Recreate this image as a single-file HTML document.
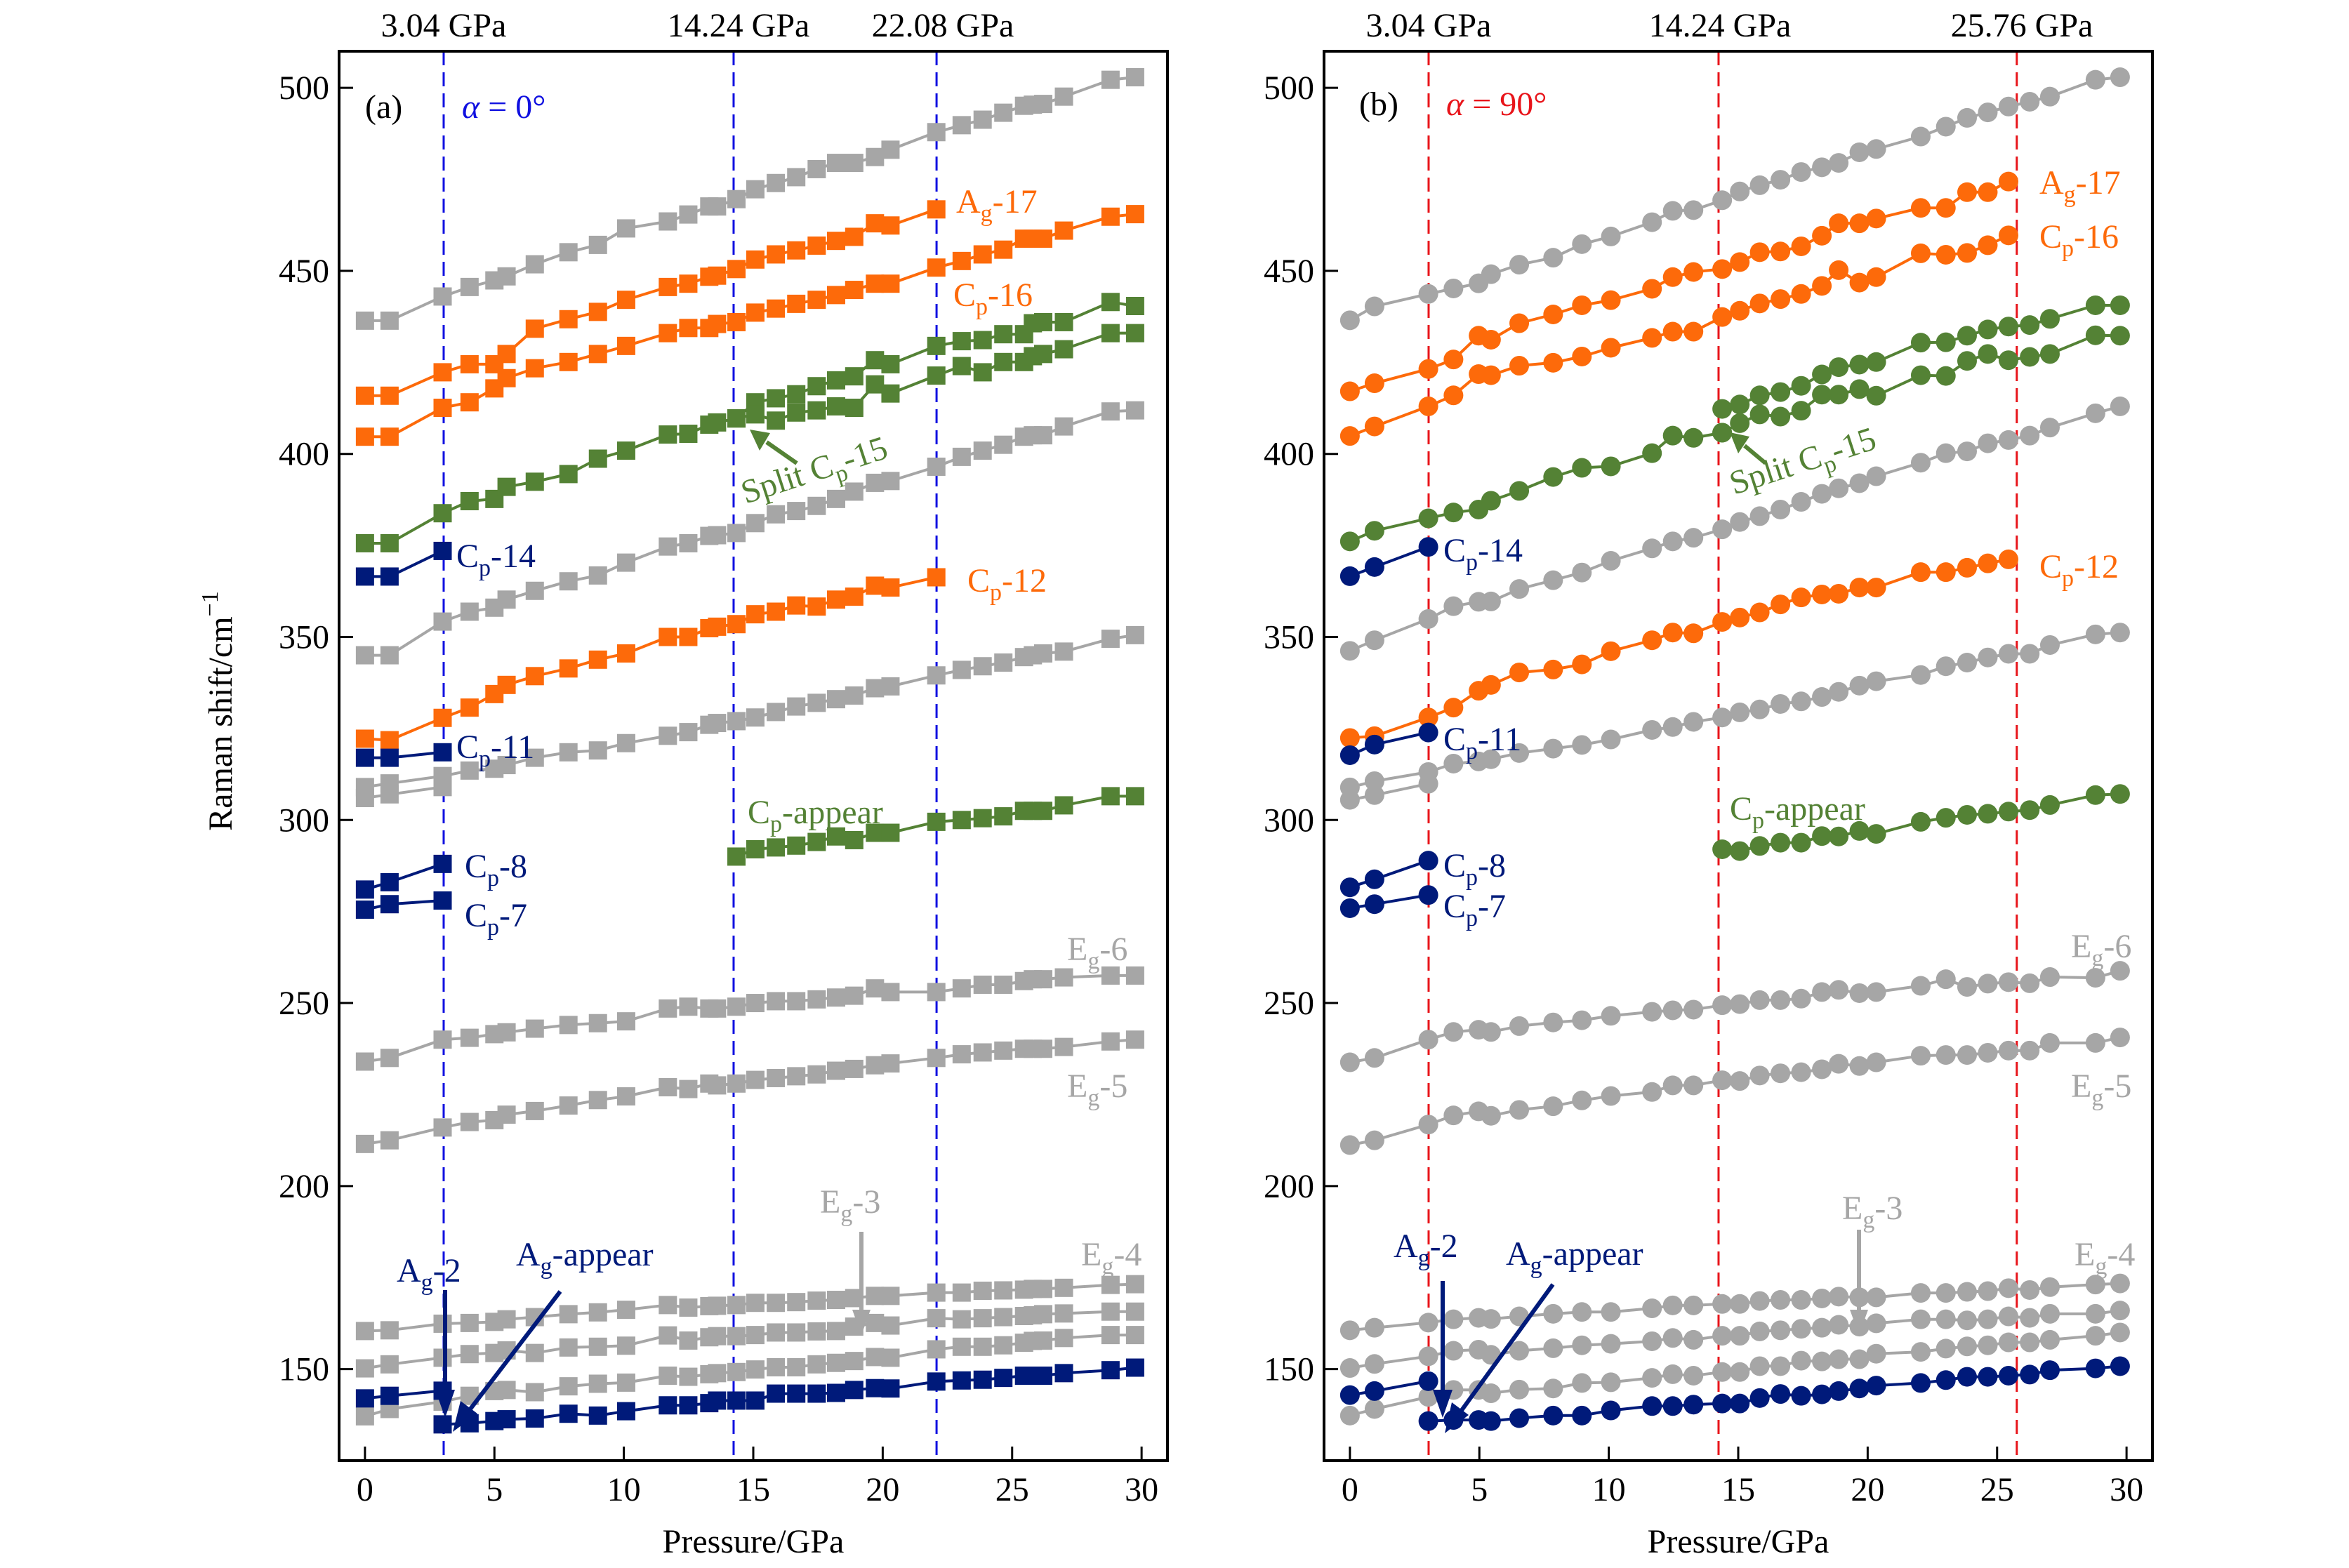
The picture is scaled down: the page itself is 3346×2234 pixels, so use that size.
<!DOCTYPE html>
<html><head><meta charset="utf-8"><title>Raman shift vs pressure</title>
<style>
html,body{margin:0;padding:0;background:#fff;}
svg{display:block;}
text{font-family:"Liberation Serif","DejaVu Serif",serif;}
</style></head>
<body>
<svg id="chart" xmlns="http://www.w3.org/2000/svg" width="3346" height="2234" viewBox="0 0 3346 2234">
<rect x="0" y="0" width="3346" height="2234" fill="#fff"/>
<g id="layer-a"></g>
<g id="layer-b"></g>

<!-- y axis title -->
<text transform="translate(330,1013) rotate(-90)" text-anchor="middle" font-size="48" fill="#000">Raman shift/cm<tspan dy="-20" font-size="34">−1</tspan></text>
<text x="1073" y="2212" text-anchor="middle" font-size="48" fill="#000">Pressure/GPa</text>
<text x="2476" y="2212" text-anchor="middle" font-size="48" fill="#000">Pressure/GPa</text>

<!-- panel a annotations -->
<g font-size="48">
<text x="520" y="168" fill="#000">(a)</text>
<text x="658" y="168" fill="#1010e0"><tspan font-style="italic">α</tspan> = 0°</text>
<text x="1362" y="303" fill="#fd6a0a">A<tspan dy="12" font-size="34">g</tspan><tspan dy="-12">-17</tspan></text>
<text x="1358" y="436" fill="#fd6a0a">C<tspan dy="12" font-size="34">p</tspan><tspan dy="-12">-16</tspan></text>
<text transform="translate(1062,718) rotate(-18)" fill="#548235">Split C<tspan dy="12" font-size="34">p</tspan><tspan dy="-12">-15</tspan></text>
<text x="650" y="808" fill="#001a7a">C<tspan dy="12" font-size="34">p</tspan><tspan dy="-12">-14</tspan></text>
<text x="1378" y="843" fill="#fd6a0a">C<tspan dy="12" font-size="34">p</tspan><tspan dy="-12">-12</tspan></text>
<text x="650" y="1080" fill="#001a7a">C<tspan dy="12" font-size="34">p</tspan><tspan dy="-12">-11</tspan></text>
<text x="1065" y="1173" fill="#548235">C<tspan dy="12" font-size="34">p</tspan><tspan dy="-12">-appear</tspan></text>
<text x="662" y="1250" fill="#001a7a">C<tspan dy="12" font-size="34">p</tspan><tspan dy="-12">-8</tspan></text>
<text x="662" y="1320" fill="#001a7a">C<tspan dy="12" font-size="34">p</tspan><tspan dy="-12">-7</tspan></text>
<text x="1520" y="1368" fill="#a6a6a6">E<tspan dy="12" font-size="34">g</tspan><tspan dy="-12">-6</tspan></text>
<text x="1520" y="1563" fill="#a6a6a6">E<tspan dy="12" font-size="34">g</tspan><tspan dy="-12">-5</tspan></text>
<text x="1168" y="1728" fill="#a6a6a6">E<tspan dy="12" font-size="34">g</tspan><tspan dy="-12">-3</tspan></text>
<text x="1540" y="1803" fill="#a6a6a6">E<tspan dy="12" font-size="34">g</tspan><tspan dy="-12">-4</tspan></text>
<text x="565" y="1826" fill="#001a7a">A<tspan dy="12" font-size="34">g</tspan><tspan dy="-12">-2</tspan></text>
<text x="735" y="1803" fill="#001a7a">A<tspan dy="12" font-size="34">g</tspan><tspan dy="-12">-appear</tspan></text>
<line x1="634" y1="1838" x2="634" y2="1985" stroke="#001a7a" stroke-width="6"/>
<polygon points="620,1980 648,1980 634,2020" fill="#001a7a"/>
<line x1="798" y1="1840" x2="668" y2="2010" stroke="#001a7a" stroke-width="6"/>
<polygon points="656,1996 680,2014 645,2040" fill="#001a7a"/>
<line x1="1227" y1="1755" x2="1227" y2="1870" stroke="#a6a6a6" stroke-width="6"/>
<polygon points="1214,1866 1240,1866 1227,1902" fill="#a6a6a6"/>
<line x1="1135" y1="660" x2="1092" y2="630" stroke="#548235" stroke-width="6"/>
<polygon points="1097,617 1082,642 1068,612" fill="#548235"/>
<text x="632" y="52" text-anchor="middle" fill="#000">3.04 GPa</text>
<text x="1052" y="52" text-anchor="middle" fill="#000">14.24 GPa</text>
<text x="1343" y="52" text-anchor="middle" fill="#000">22.08 GPa</text>
</g>

<!-- panel b annotations -->
<g font-size="48">
<text x="1936" y="164" fill="#000">(b)</text>
<text x="2060" y="164" fill="#e8141a"><tspan font-style="italic">α</tspan> = 90°</text>
<text x="2905" y="276" fill="#fd6a0a">A<tspan dy="12" font-size="34">g</tspan><tspan dy="-12">-17</tspan></text>
<text x="2905" y="353" fill="#fd6a0a">C<tspan dy="12" font-size="34">p</tspan><tspan dy="-12">-16</tspan></text>
<text transform="translate(2470,705) rotate(-18)" fill="#548235">Split C<tspan dy="12" font-size="34">p</tspan><tspan dy="-12">-15</tspan></text>
<text x="2056" y="800" fill="#001a7a">C<tspan dy="12" font-size="34">p</tspan><tspan dy="-12">-14</tspan></text>
<text x="2905" y="823" fill="#fd6a0a">C<tspan dy="12" font-size="34">p</tspan><tspan dy="-12">-12</tspan></text>
<text x="2056" y="1069" fill="#001a7a">C<tspan dy="12" font-size="34">p</tspan><tspan dy="-12">-11</tspan></text>
<text x="2464" y="1168" fill="#548235">C<tspan dy="12" font-size="34">p</tspan><tspan dy="-12">-appear</tspan></text>
<text x="2056" y="1249" fill="#001a7a">C<tspan dy="12" font-size="34">p</tspan><tspan dy="-12">-8</tspan></text>
<text x="2056" y="1307" fill="#001a7a">C<tspan dy="12" font-size="34">p</tspan><tspan dy="-12">-7</tspan></text>
<text x="2950" y="1364" fill="#a6a6a6">E<tspan dy="12" font-size="34">g</tspan><tspan dy="-12">-6</tspan></text>
<text x="2950" y="1563" fill="#a6a6a6">E<tspan dy="12" font-size="34">g</tspan><tspan dy="-12">-5</tspan></text>
<text x="2624" y="1737" fill="#a6a6a6">E<tspan dy="12" font-size="34">g</tspan><tspan dy="-12">-3</tspan></text>
<text x="2955" y="1803" fill="#a6a6a6">E<tspan dy="12" font-size="34">g</tspan><tspan dy="-12">-4</tspan></text>
<text x="1985" y="1791" fill="#001a7a">A<tspan dy="12" font-size="34">g</tspan><tspan dy="-12">-2</tspan></text>
<text x="2145" y="1802" fill="#001a7a">A<tspan dy="12" font-size="34">g</tspan><tspan dy="-12">-appear</tspan></text>
<line x1="2055" y1="1825" x2="2055" y2="1985" stroke="#001a7a" stroke-width="6"/>
<polygon points="2041,1980 2069,1980 2055,2020" fill="#001a7a"/>
<line x1="2212" y1="1830" x2="2080" y2="2012" stroke="#001a7a" stroke-width="6"/>
<polygon points="2068,1998 2092,2016 2058,2042" fill="#001a7a"/>
<line x1="2648" y1="1752" x2="2648" y2="1870" stroke="#a6a6a6" stroke-width="6"/>
<polygon points="2635,1866 2661,1866 2648,1902" fill="#a6a6a6"/>
<line x1="2515" y1="660" x2="2485" y2="635" stroke="#548235" stroke-width="6"/>
<polygon points="2492,622 2476,646 2464,616" fill="#548235"/>
<text x="2035" y="52" text-anchor="middle" fill="#000">3.04 GPa</text>
<text x="2450" y="52" text-anchor="middle" fill="#000">14.24 GPa</text>
<text x="2880" y="52" text-anchor="middle" fill="#000">25.76 GPa</text>
</g>
</svg>

<script>
// ---------- data ----------
const P_A = [0,0.95,3.0,4.04,5.0,5.47,6.56,7.86,9.0,10.09,11.7,12.49,13.3,13.6,14.35,15.08,15.87,16.66,17.45,18.2,18.9,19.7,20.3,22.07,23.05,23.86,24.66,25.46,25.8,26.2,27.0,28.8,29.75];
const P_B = [0,0.95,3.03,4.0,4.97,5.45,6.54,7.85,8.96,10.08,11.67,12.47,13.27,14.38,15.06,15.83,16.63,17.43,18.23,18.88,19.68,20.33,22.05,23.02,23.84,24.64,25.44,26.26,27.04,28.8,29.75];
const LOW3_A = [0,0.95,3.0];
const LOW3_B = [0,0.95,3.03];
const TRANS_A = [3.04,14.24,22.08];
const TRANS_B = [3.04,14.24,25.76];
const X_TICKS = [0,5,10,15,20,25,30];
const Y_TICKS = [150,200,250,300,350,400,450,500];

const a_top = [436.4,436.4,443,445.6,447.4,448.5,451.8,455.1,457.1,461.6,463.5,465.4,467.6,467.6,469.6,472.3,474,475.6,477.8,479.5,479.5,481.1,483.1,487.9,489.8,491.3,493.2,495.1,495.4,495.6,497.6,502.2,502.9];
const a_ag17 = [415.9,415.9,422.3,424.5,424.5,427.3,434.2,436.8,438.8,442.1,445.6,446.5,448.4,448.7,450.5,453.1,454.5,455.6,456.9,458.2,459.3,463,462.4,466.8];
const a_cp16 = [404.7,404.7,412.6,414.1,417.9,420.7,423.4,425.1,427.3,429.5,433,434.4,434.4,435.5,436,438.6,439.7,441,442.1,443.4,444.8,446.5,446.5,450.9,452.7,454.5,455.8,458.8,458.8,458.8,461,464.8,465.5];
const a_cp15 = [375.6,375.6,383.8,387.1,387.7,391,392.4,394.5,398.7,400.9,405.3,405.5,408,408.6,409.7];
const a_cp15up = [409.7,414.1,415.2,416.3,418.5,420.1,421.2,425.6,424.5,429.5,430.8,431.1,432.7,432.7,435.7,436,436,441.5,440.4];
const a_cp15lo = [409.7,410.8,409.1,411.3,411.9,413,412.6,419,416.5,421.4,424,422.3,425.1,425.1,426.7,427.3,428.6,433,433];
const a_g4 = [345,345,354.2,356.9,358,360.2,362.6,365.2,366.8,370.3,374.7,375.6,377.6,377.8,378.4,381.1,383.5,384.4,385.8,387.7,389.7,392.1,392.6,396.5,399.2,400.9,402.5,404.7,405.1,405.1,407.5,411.6,411.9];
const a_cp14 = [366.5,366.5,373.5];
const a_cp12 = [322.2,321.8,327.9,330.7,334.4,336.9,339.3,341.4,343.8,345.5,350,350,352.4,352.8,353.5,356.2,356.9,358.6,358.3,360.2,361,364,363.5,366.3];
const a_g5 = [309,310,312,313.5,314,315,317,318.5,319,321,323,324,326,326.5,327,328,329.5,331,332,333,334,336,336.5,339.5,341,342,343,344.5,345,345.5,346,349.5,350.5];
const a_g5lo = [306,307,309];
const a_cp11 = [317,317,318.5];
const a_cp8 = [281,283,288];
const a_cp7 = [275.5,277,278];
const a_cpapp = [290,292,292.5,293,294,295.5,294.5,296.5,296.5,299.5,300,300.5,301,302.5,302.5,302.5,304,306.5,306.5];
const a_eg6 = [234,235,240,240.5,241.5,242,243,244,244.5,245,248.5,249,248.5,248.5,249,250,250.5,250.5,251,251.5,252,254,253,253,254,255,255,256,256.5,256.5,257,257.5,257.5];
const a_eg5 = [211.5,212.5,216,217.5,218,219.5,220.5,222,223.5,224.5,227,226.5,228,227.5,228,229,229.5,230,230.5,231.5,232,233,233.5,235,236,236.5,237,237.5,237.5,237.5,238,239.5,240];
const a_eg4 = [160.4,160.6,162.4,162.6,162.9,163.6,164.2,165,165.5,166.2,167.5,166.8,167.2,167.3,167.5,168.1,168.1,168.3,168.7,168.9,169.4,170,170,170.9,170.9,171.4,171.5,171.7,171.9,171.9,172.2,173,173.2];
const a_eg3 = [150.2,151.3,153.1,154.1,154.4,155.1,154.4,155.9,156.1,156.4,159.2,157.8,158.7,159,159,159.3,160,160,160.3,160.4,161.6,162.6,161.9,163.9,163.6,163.9,164.2,164.5,164.7,165,165.2,165.7,165.7];
const a_egx = [137.1,139.1,141.1,142.7,144,144.3,143.7,145.3,146,146.3,148.2,147.9,148.6,148.9,149.2,149.9,150.5,150.5,151.3,151.7,152.2,153.3,153.1,155.4,156.1,156.1,156.5,157.2,157.7,157.8,158.5,159.3,159.3];
const a_ag2 = [142,142.7,144.1];
const a_agapp = [134.9,135.2,135.8,136.3,136.5,137.8,137.3,138.5,140.1,140.1,140.7,141.4,141.4,141.4,143.3,143.3,143.3,143.5,144.3,144.8,144.7,146.6,146.9,147.1,147.6,148.2,148.2,148.2,148.9,149.7,150.4];

const b_top = [436.5,440.3,443.7,445.2,446.6,449.1,451.7,453.6,457.3,459.4,463.3,466.4,466.6,469.3,471.7,473.4,474.9,477,478.3,479.5,482.4,483.3,486.7,489.4,491.8,493.3,494.9,496.2,497.6,502.2,502.9];
const b_ag17 = [417.1,419.3,423.2,425.8,432.3,431.2,435.7,438.1,440.6,442,445.1,448.3,449.7,450.5,452.4,455.1,455.3,456.7,459.6,463,463,464.3,467.2,467.2,471.5,471.5,474.4];
const b_cp16 = [404.9,407.5,413,416,421.8,421.5,424.1,424.9,426.6,429,431.7,433.4,433.4,437.4,439.1,441.1,442.3,443.7,445.9,450.2,446.8,448.3,454.8,454.4,454.9,457,459.7];
const b_cp15 = [376.1,379,382.4,384,384.8,387.2,389.9,393.7,396.2,396.6,400.2,405,404.4,405.8];
const b_cp15up = [412.3,413.5,416,416.9,418.6,421.7,423.7,424.4,425.1,430.4,430.5,432.3,434,434.8,435.2,436.9,440.6,440.6];
const b_cp15lo = [405.8,408.4,410.8,410.2,411.8,416.2,416.2,417.7,415.9,421.5,421.3,425.4,427.3,425.6,426.5,427.3,432.4,432.3];
const b_g4 = [346.2,349.1,354.9,358.4,359.6,359.7,363.1,365.5,367.6,370.8,374.2,376.1,377.1,379.4,381.4,383,384.8,386.9,389.1,390.6,392,393.9,397.6,400.2,400.7,402.9,403.8,405,407.2,411.1,413];
const b_cp14 = [366.6,369.1,374.6];
const b_cp12 = [322.4,322.9,328,330.7,335.3,336.9,340.3,341.1,342.5,346.1,349.1,351.2,351,354.1,355.3,356.7,358.9,360.8,361.6,361.8,363.5,363.5,367.7,367.7,368.9,370.1,371.2];
const b_cp11 = [317.7,320.6,323.9];
const b_g5 = [308.9,310.6,313.1,315.4,316,316.6,318.3,319.5,320.5,322,324.6,325.4,326.8,328,329.4,330.2,331.7,332.4,333.6,335,336.7,337.9,339.6,342,343,344.4,345.4,345.4,347.8,350.7,351.2];
const b_g5lo = [305.5,306.8,309.9];
const b_cp8 = [281.6,283.8,288.9];
const b_cp7 = [275.9,277,279.5];
const b_cpapp = [292,291.5,292.9,293.8,293.8,295.6,295.5,297,296.2,299.5,300.6,301.4,301.7,302.3,302.7,304.1,306.8,307.1];
const b_eg6 = [233.8,235,240,242.1,242.7,242.1,243.7,244.7,245.3,246.5,247.6,248,248.2,249.4,249.7,250.8,250.8,251.2,253,253.6,252.7,253,254.7,256.5,254.4,255.3,255.7,255.4,257.1,256.9,258.8];
const b_eg5 = [211.2,212.5,216.8,219.3,220.4,219.2,220.8,221.8,223.4,224.6,225.7,227.5,227.5,228.9,228.7,230.2,230.8,231.1,231.9,233.4,232.8,233.8,235.6,235.8,235.8,236.4,237,237,239.1,239.1,240.6];
const b_eg4 = [160.6,161.3,162.7,163.6,164,163.7,164.4,165.1,165.6,165.6,166.6,167.4,167.4,167.8,167.8,168.6,168.9,168.9,169.3,169.8,169.6,169.6,170.8,170.8,171.1,171.3,172.1,171.6,172.4,173.1,173.4];
const b_eg3 = [150.3,151.4,153.5,155,155.3,153.9,155,155.7,156.5,156.9,157.6,158.5,158,159.1,159.1,160.3,160.6,161,161.3,162.1,161.6,162.5,163.6,163.6,163.3,163.6,164.4,164,165.1,165.1,166];
const b_egx = [137.3,139.1,142.4,144.3,144.3,143.4,144.4,144.7,146.2,146.4,147.6,148.6,148.2,149.2,149.2,150.8,150.8,152.3,152.1,152.7,152.7,154.2,154.7,155.6,156.2,156.5,157.3,157.3,158,159.1,160];
const b_ag2 = [142.9,144,146.7];
const b_agapp = [135.8,136.1,136.1,135.8,136.6,137.3,137.3,138.7,139.9,139.9,140.3,140.6,140.6,142.1,143.2,142.7,143.1,144,144.7,145.5,146.2,147,147.9,147.9,148.2,148.5,149.7,150.2,150.8];

// ---------- rendering ----------
const NS = "http://www.w3.org/2000/svg";
const GRAY = "#a6a6a6", ORANGE = "#fd6a0a", GREEN = "#548235", NAVY = "#001a7a";
const X_MIN = -1, X_MAX = 31, Y_MIN = 125, Y_MAX = 510;
const TOP = 73, BOTTOM = 2081, PW = 1180;

function mk(tag, attrs, parent) {
  const el = document.createElementNS(NS, tag);
  for (const k in attrs) el.setAttribute(k, attrs[k]);
  parent.appendChild(el);
  return el;
}

function drawPanel(g, left, P, low3, trans, dashColor, marker, series, tag) {
  const xs = v => left + (v - X_MIN) / (X_MAX - X_MIN) * PW;
  const ys = v => BOTTOM - (v - Y_MIN) / (Y_MAX - Y_MIN) * (BOTTOM - TOP);

  // transition lines
  trans.forEach(t => {
    const l = mk("line", {x1: xs(t), x2: xs(t), y1: TOP, y2: BOTTOM, stroke: dashColor, "stroke-width": 3, "stroke-dasharray": "20,10"}, g);
    
    
  });

  series.forEach(s => {
    const sg = mk("g", {}, g);
    
    
    const pts = s.y.map((v, i) => xs(s.x[i]).toFixed(1) + "," + ys(v).toFixed(1)).join(" ");
    const pl = mk("polyline", {points: pts, fill: "none", stroke: s.c, "stroke-width": 4, "stroke-linejoin": "round"}, sg);
    
    
    s.y.forEach((v, i) => {
      const cx = xs(s.x[i]), cy = ys(v);
      let m;
      if (marker === "square") m = mk("rect", {x: cx - 13, y: cy - 13, width: 26, height: 26, fill: s.c}, sg);
      else m = mk("circle", {cx: cx, cy: cy, r: 14, fill: s.c}, sg);
      
      
    });
  });

  // frame
  const fr = mk("rect", {x: left, y: TOP, width: PW, height: BOTTOM - TOP, fill: "none", stroke: "#000", "stroke-width": 4}, g);
  
  

  X_TICKS.forEach(t => {
    const tk = mk("line", {x1: xs(t), x2: xs(t), y1: BOTTOM, y2: BOTTOM - 20, stroke: "#000", "stroke-width": 3}, g);
    
    
    const tl = mk("text", {x: xs(t), y: BOTTOM + 57, "text-anchor": "middle", "font-size": 48, fill: "#000"}, g);
    tl.textContent = String(t);
    
    
  });
  Y_TICKS.forEach(t => {
    const tk = mk("line", {x1: left, x2: left + 20, y1: ys(t), y2: ys(t), stroke: "#000", "stroke-width": 3}, g);
    
    
    const tl = mk("text", {x: left - 14, y: ys(t) + 16, "text-anchor": "end", "font-size": 48, fill: "#000"}, g);
    tl.textContent = String(t);
    
    
  });
}

const seriesA = [
  {name: "top-gray", x: P_A, y: a_top, c: GRAY},
  {name: "gray-4", x: P_A, y: a_g4, c: GRAY},
  {name: "gray-5", x: P_A, y: a_g5, c: GRAY},
  {name: "gray-5-low", x: LOW3_A, y: a_g5lo, c: GRAY},
  {name: "eg6", x: P_A, y: a_eg6, c: GRAY},
  {name: "eg5", x: P_A, y: a_eg5, c: GRAY},
  {name: "eg4", x: P_A, y: a_eg4, c: GRAY},
  {name: "eg3", x: P_A, y: a_eg3, c: GRAY},
  {name: "gray-low", x: P_A, y: a_egx, c: GRAY},
  {name: "ag17", x: P_A.slice(0, 24), y: a_ag17, c: ORANGE},
  {name: "cp16", x: P_A, y: a_cp16, c: ORANGE},
  {name: "cp12", x: P_A.slice(0, 24), y: a_cp12, c: ORANGE},
  {name: "cp15", x: P_A.slice(0, 15), y: a_cp15, c: GREEN},
  {name: "cp15-upper", x: P_A.slice(14), y: a_cp15up, c: GREEN},
  {name: "cp15-lower", x: P_A.slice(14), y: a_cp15lo, c: GREEN},
  {name: "cp-appear", x: P_A.slice(14), y: a_cpapp, c: GREEN},
  {name: "cp14", x: LOW3_A, y: a_cp14, c: NAVY},
  {name: "cp11", x: LOW3_A, y: a_cp11, c: NAVY},
  {name: "cp8", x: LOW3_A, y: a_cp8, c: NAVY},
  {name: "cp7", x: LOW3_A, y: a_cp7, c: NAVY},
  {name: "ag2", x: LOW3_A, y: a_ag2, c: NAVY},
  {name: "ag-appear", x: P_A.slice(2), y: a_agapp, c: NAVY}
];
const seriesB = [
  {name: "top-gray", x: P_B, y: b_top, c: GRAY},
  {name: "gray-4", x: P_B, y: b_g4, c: GRAY},
  {name: "gray-5", x: P_B, y: b_g5, c: GRAY},
  {name: "gray-5-low", x: LOW3_B, y: b_g5lo, c: GRAY},
  {name: "eg6", x: P_B, y: b_eg6, c: GRAY},
  {name: "eg5", x: P_B, y: b_eg5, c: GRAY},
  {name: "eg4", x: P_B, y: b_eg4, c: GRAY},
  {name: "eg3", x: P_B, y: b_eg3, c: GRAY},
  {name: "gray-low", x: P_B, y: b_egx, c: GRAY},
  {name: "ag17", x: P_B.slice(0, 27), y: b_ag17, c: ORANGE},
  {name: "cp16", x: P_B.slice(0, 27), y: b_cp16, c: ORANGE},
  {name: "cp12", x: P_B.slice(0, 27), y: b_cp12, c: ORANGE},
  {name: "cp15", x: P_B.slice(0, 14), y: b_cp15, c: GREEN},
  {name: "cp15-upper", x: P_B.slice(13), y: b_cp15up, c: GREEN},
  {name: "cp15-lower", x: P_B.slice(13), y: b_cp15lo, c: GREEN},
  {name: "cp-appear", x: P_B.slice(13), y: b_cpapp, c: GREEN},
  {name: "cp14", x: LOW3_B, y: b_cp14, c: NAVY},
  {name: "cp11", x: LOW3_B, y: b_cp11, c: NAVY},
  {name: "cp8", x: LOW3_B, y: b_cp8, c: NAVY},
  {name: "cp7", x: LOW3_B, y: b_cp7, c: NAVY},
  {name: "ag2", x: LOW3_B, y: b_ag2, c: NAVY},
  {name: "ag-appear", x: P_B.slice(2), y: b_agapp, c: NAVY}
];

drawPanel(document.getElementById("layer-a"), 483, P_A, LOW3_A, TRANS_A, "#1010e0", "square", seriesA, "a");
drawPanel(document.getElementById("layer-b"), 1886, P_B, LOW3_B, TRANS_B, "#e8141a", "circle", seriesB, "b");
</script>
</body></html>
